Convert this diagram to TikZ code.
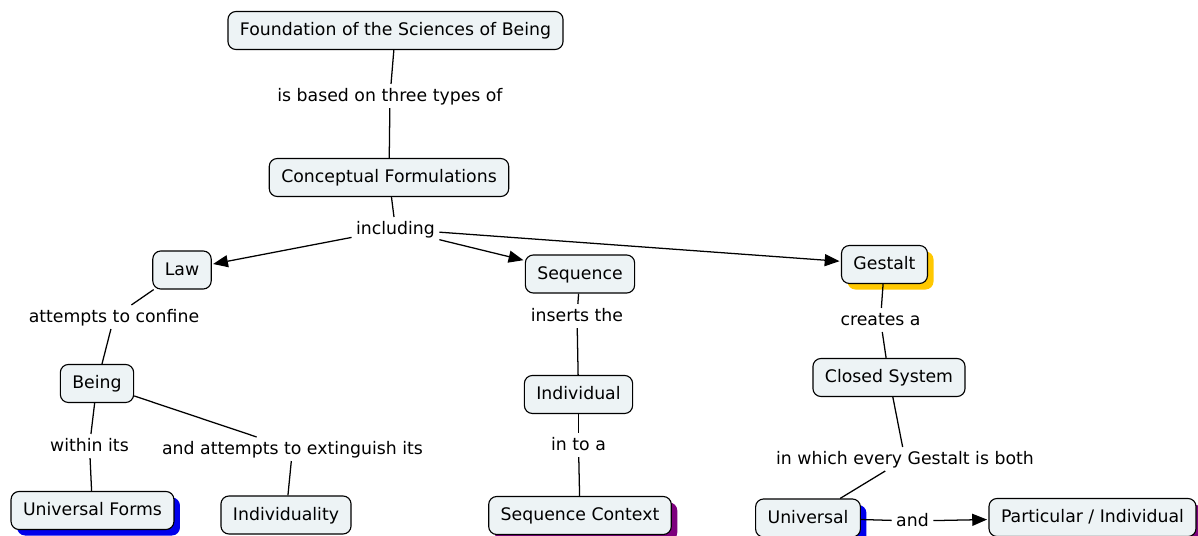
\documentclass[tikz,border=0pt]{standalone}
\usepackage{fontspec}
\setmainfont{DejaVu Sans}
\usetikzlibrary{arrows.meta, shadows}
\definecolor{conceptfill}{RGB}{237, 243, 245}
\definecolor{shadeblue}{RGB}{0, 0, 235}
\definecolor{shadepurple}{RGB}{125, 0, 125}
\definecolor{shadeyellow}{RGB}{255, 200, 0}

\begin{document}
\begin{tikzpicture}[x=0.025cm, y=-0.025cm,
        font=\fontsize{12.3}{14.8}\selectfont,
        box/.style={rectangle, draw, rounded corners=0.2cm, fill=conceptfill, line width=0.8pt,
          minimum height=0.95cm, inner xsep=0.3cm, text height=0.9em, text depth=0.17em},
        link/.style={inner xsep=3pt, inner ysep=3pt, text height=0.9em, text depth=0.17em},
        shade/.style={drop shadow={shadow xshift=0.15cm, shadow yshift=-0.15cm, fill=#1, opacity=1}},
        line/.style={line width=0.9pt},
        arrow/.style={line width=0.9pt, -{Triangle[length=0.37cm, width=0.3cm]}, shorten >=1pt}
      ]
        \useasboundingbox (0,0) rectangle (1198,536);
        % concepts
        \node[box] (found) at (395.5,30.5) {Foundation of the Sciences of Being};
        \node[box] (concept) at (389,177.5) {Conceptual Formulations};
        \node[box] (law) at (182,270) {Law};
        \node[box] (seq) at (580,274) {Sequence};
        \node[box, shade=shadeyellow] (gestalt) at (884.5,264.5) {Gestalt};
        \node[box] (being) at (97,383.5) {Being};
        \node[box, shade=shadeblue] (forms) at (92.5,510.5) {Universal Forms};
        \node[box] (indiv) at (286,515) {Individuality};
        \node[box] (individual) at (578.5,394.5) {Individual};
        \node[box, shade=shadepurple] (context) at (580,515.5) {Sequence Context};
        \node[box] (closed) at (889,377.5) {Closed System};
        \node[box, shade=shadeblue] (univ) at (808,518) {Universal};
        \node[box, shade=shadepurple] (partic) at (1092.5,517.5) {Particular / Individual};
        % linking phrases
        \node[link] (based) at (390,96) {is based on three types of};
        \node[link] (incl) at (395.5,229) {including};
        \node[link] (confine) at (114,317) {attempts to confine};
        \node[link] (within) at (89.5,446) {within its};
        \node[link] (extinguish) at (292.5,449) {and attempts to extinguish its};
        \node[link] (inserts) at (577,316) {inserts the};
        \node[link] (into) at (578.5,445) {in to a};
        \node[link] (creates) at (880.5,320) {creates a};
        \node[link] (every) at (905,459) {in which every Gestalt is both};
        \node[link] (and) at (912.5,521) {and};
        % connections
        \draw[line] (found) -- (based);
        \draw[line] (based) -- (concept);
        \draw[line] (concept) -- (incl);
        \draw[arrow] (incl) -- (law);
        \draw[arrow] (incl) -- (seq);
        \draw[arrow] (incl) -- (gestalt);
        \draw[line] (law) -- (confine);
        \draw[line] (confine) -- (being);
        \draw[line] (being) -- (within);
        \draw[line] (within) -- (forms);
        \draw[line] (being) -- (extinguish);
        \draw[line] (extinguish) -- (indiv);
        \draw[line] (seq) -- (inserts);
        \draw[line] (inserts) -- (individual);
        \draw[line] (individual) -- (into);
        \draw[line] (into) -- (context);
        \draw[line] (gestalt) -- (creates);
        \draw[line] (creates) -- (closed);
        \draw[line] (closed) -- (every);
        \draw[line] (every) -- (univ);
        \draw[line] (univ) -- (and);
        \draw[arrow] (and) -- (partic);
      \end{tikzpicture}
\end{document}
